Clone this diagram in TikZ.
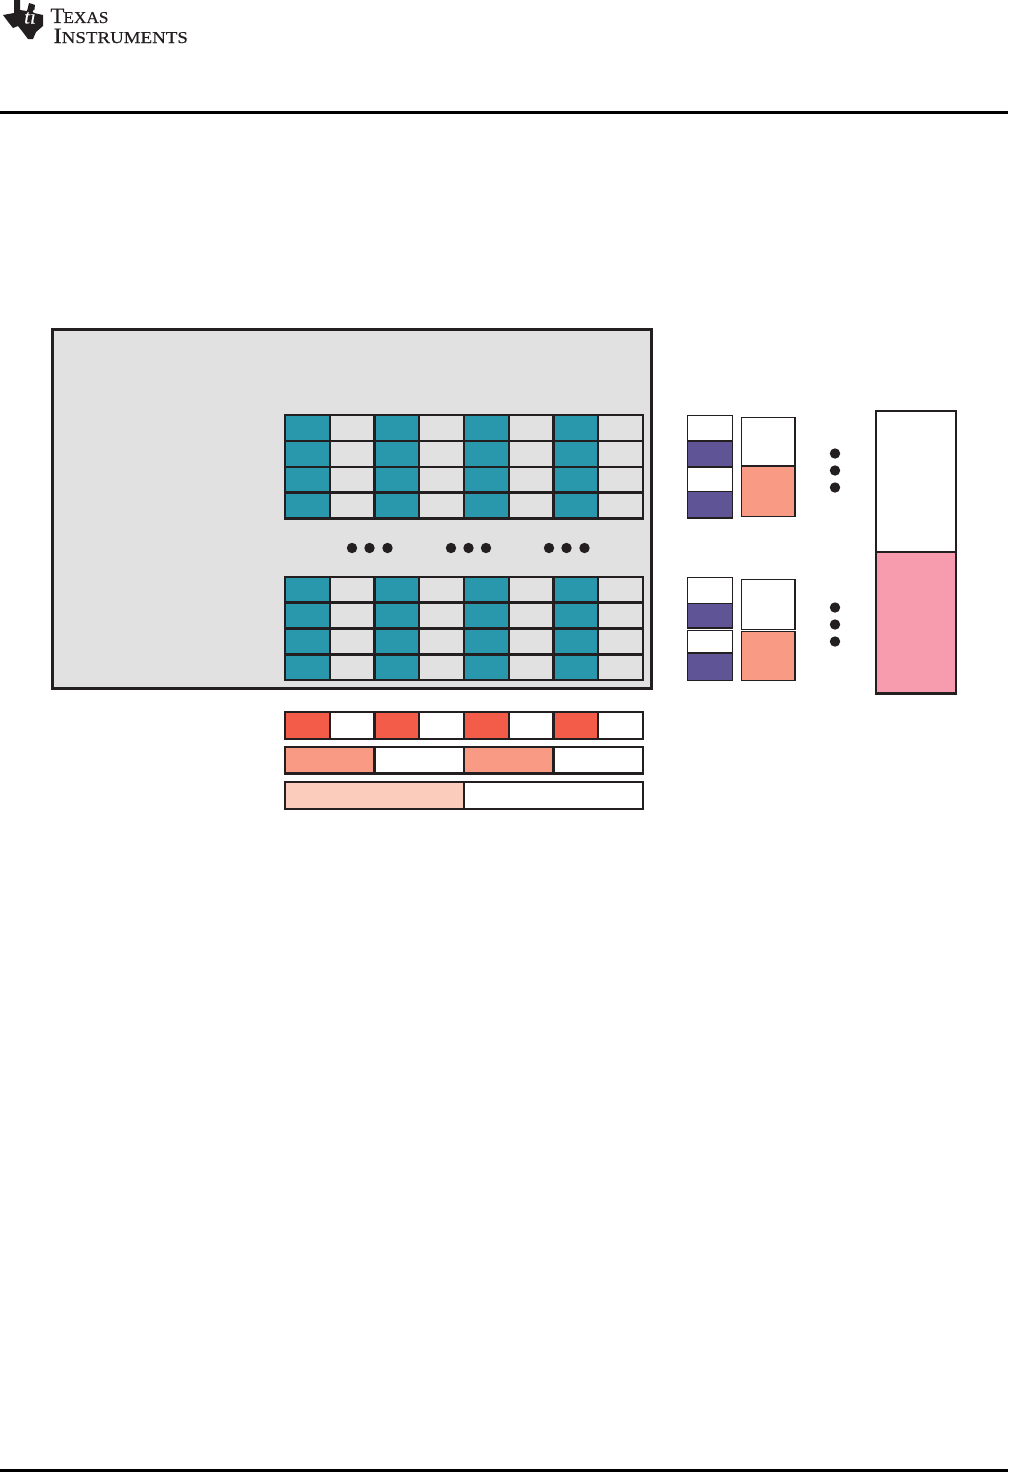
\documentclass[tikz,border=0pt]{standalone}
\usepackage{fontspec}
\setmainfont{Liberation Serif}
\newfontfamily\logofont[FakeStretch=1.14,FakeBold=0.35]{Liberation Serif}
\newfontfamily\logotight[FakeStretch=1.04,FakeBold=0.35]{Liberation Serif}
\definecolor{ink}{HTML}{231F20}
\definecolor{panel}{HTML}{E1E1E1}
\definecolor{teal}{HTML}{2A98AC}
\definecolor{violet}{HTML}{5F5496}
\definecolor{salmon}{HTML}{F99A84}
\definecolor{redc}{HTML}{F45C4A}
\definecolor{peach}{HTML}{FBCCBC}
\definecolor{rose}{HTML}{F79CAE}
\tikzset{
  cell/.style={draw=ink,line width=1.05pt},
  heavy/.style={draw=ink,line width=1.5pt},
  dotmark/.style={circle,fill=ink,inner sep=0pt,minimum size=5.2pt},
  rule/.style={draw=black,line width=1.5pt},
  logotext/.style={inner sep=0pt,anchor=base west,text=ink}
}
\newcommand{\gridrow}[3]{% y0, y1, light colour
  \foreach \a/\b/\c in {285/330/teal,330/374.5/#3,374.5/419/teal,419/464/#3,464/509/teal,509/553.5/#3,553.5/598/teal,598/643/#3}
    \filldraw[cell,fill=\c] (\a,#1) rectangle (\b,#2);}
\begin{document}
\begin{tikzpicture}[x=0.5pt,y=-0.5pt]
\useasboundingbox (0,0) rectangle (1008,1472);
\fill[white] (0,0) rectangle (1008,1472);
% logo
\fill[ink] (3,15) -- (14,13) -- (14,0) -- (20,0) -- (20,10) -- (27,11) -- (29,3) -- (35,5) -- (34,13) -- (43,15) -- (43,26) -- (36,32) -- (33,39) -- (28,39) -- (22,31) -- (18,26) -- (13,28) -- (9,23) -- cycle;
\node[inner sep=0pt,text=white,font=\logotight\itshape\fontsize{10}{10}\selectfont] (ti) at (30,17) {ti};
\node[logotext,font=\logotight\fontsize{11}{11}\selectfont] (texas) at (50,23) {T\kern-0.5pt{\fontsize{8.3}{8.3}\selectfont EXAS}};
\node[logotext,font=\logofont\fontsize{11}{11}\selectfont] (instr) at (53,43) {I{\fontsize{8.3}{8.3}\selectfont NSTRUMENTS}};
\draw[rule] (0,112) -- (1008,112);
\draw[rule] (0,1470.5) -- (1008,1470.5);
% panel
\filldraw[heavy,fill=panel] (52.5,329.5) rectangle (651.5,688);
\gridrow{415}{441}{panel}
\gridrow{441}{467}{panel}
\gridrow{467}{492.5}{panel}
\gridrow{492.5}{518.5}{panel}
\gridrow{577}{602.5}{panel}
\gridrow{602.5}{628.5}{panel}
\gridrow{628.5}{654.5}{panel}
\gridrow{654.5}{680}{panel}
\foreach \x [count=\i] in {352,369.5,387.5,451,468.5,486,549,566.5,584.5}
  \node[dotmark] (h\i) at (\x,548) {};
% bars
\foreach \a/\b/\c in {285/330/redc,330/374.5/white,374.5/419/redc,419/464/white,464/509/redc,509/553.5/white,553.5/598/redc,598/643/white}
  \filldraw[cell,fill=\c] (\a,712) rectangle (\b,739);
\foreach \a/\b/\c in {285/374.5/salmon,374.5/464/white,464/553.5/salmon,553.5/643/white}
  \filldraw[cell,fill=\c] (\a,747) rectangle (\b,773.5);
\foreach \a/\b/\c in {285/464/peach,464/643/white}
  \filldraw[cell,fill=\c] (\a,782) rectangle (\b,809);
% right stacks, upper
\foreach \a/\b/\c/\w in {415.5/441/white/0.7,441/466.5/violet/0.7,467.5/491.5/white/0.7,491.5/518/violet/0.7}
  \filldraw[draw=ink,line width=\w pt,fill=\c] (687.5,\a) rectangle (732.5,\b);
\draw[draw=ink,line width=1pt] (687.5,441) -- (732.5,441);
\draw[draw=ink,line width=1pt] (687.5,518) -- (732.5,518);
\filldraw[draw=ink,line width=0.7pt,fill=white] (741.5,417.5) rectangle (795,466);
\filldraw[draw=ink,line width=0.7pt,fill=salmon] (741.5,466) rectangle (795,516.5);
\draw[draw=ink,line width=1.1pt] (795,417.5) -- (795,516.5);
% right stacks, lower
\foreach \a/\b/\c in {577.5/603.5/white,603.5/628/violet,630.5/653/white,653/680.5/violet}
  \filldraw[draw=ink,line width=0.7pt,fill=\c] (687.5,\a) rectangle (732.5,\b);
\draw[draw=ink,line width=1pt] (687.5,628) -- (732.5,628);
\filldraw[draw=ink,line width=0.7pt,fill=white] (741.5,579.5) rectangle (795,629.5);
\filldraw[draw=ink,line width=0.7pt,fill=salmon] (741.5,631.5) rectangle (795,680.5);
\draw[draw=ink,line width=1.1pt] (795,579.5) -- (795,629.5);
\draw[draw=ink,line width=1.1pt] (795,631.5) -- (795,680.5);
% vertical dots
\foreach \y [count=\i] in {453.5,470.5,487.5,607.5,624.5,641.5}
  \node[dotmark] (v\i) at (835,\y) {};
% big box
\filldraw[heavy,fill=white,line width=1.3pt] (876,411) rectangle (956,552);
\filldraw[heavy,fill=rose,line width=1.3pt] (876,552) rectangle (956,693.5);
\end{tikzpicture}
\end{document}
